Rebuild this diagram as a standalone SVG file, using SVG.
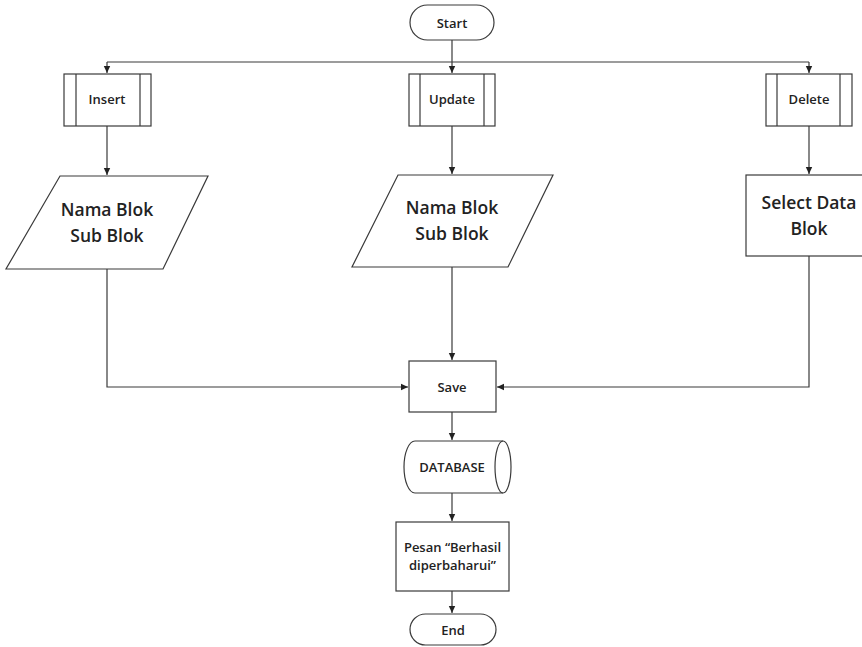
<svg xmlns="http://www.w3.org/2000/svg" width="862" height="647" viewBox="0 0 862 647">
<style>
.s{fill:#fff;stroke:#3a3a3a;stroke-width:1.2}
.l{fill:none;stroke:#3a3a3a;stroke-width:1.2}
.t{font-family:"Open Sans","Liberation Sans",sans-serif;fill:#222;text-anchor:middle;font-size:13px;font-weight:600}
.b{font-family:"Open Sans","Liberation Sans",sans-serif;fill:#222;text-anchor:middle;font-size:17.5px;font-weight:600}
</style>
<defs>
<marker id="a" markerWidth="8" markerHeight="8" refX="7" refY="4" orient="auto" markerUnits="userSpaceOnUse">
<path d="M0,0.8 L7,4 L0,7.2 Z" fill="#222"/>
</marker>
</defs>
<rect width="862" height="647" fill="#fff"/>
<g id="connectors">
<path class="l" d="M452,40 V73" marker-end="url(#a)"/>
<path class="l" d="M107,62 H809"/>
<path class="l" d="M107,62 V73" marker-end="url(#a)"/>
<path class="l" d="M809,62 V73" marker-end="url(#a)"/>
<path class="l" d="M107,126 V175" marker-end="url(#a)"/>
<path class="l" d="M452,126 V174" marker-end="url(#a)"/>
<path class="l" d="M809,126 V174" marker-end="url(#a)"/>
<path class="l" d="M107,269 V387 H408" marker-end="url(#a)"/>
<path class="l" d="M452,267 V360" marker-end="url(#a)"/>
<path class="l" d="M809,256 V387 H497" marker-end="url(#a)"/>
<path class="l" d="M452,412 V440" marker-end="url(#a)"/>
<path class="l" d="M452,493 V521" marker-end="url(#a)"/>
<path class="l" d="M452,591 V613" marker-end="url(#a)"/>
</g>
<g id="start">
<rect class="s" x="410" y="5" width="84" height="35" rx="17.5"/>
<text class="t" x="452" y="27.5">Start</text>
</g>
<g id="insert">
<rect class="s" x="64" y="74" width="87" height="52"/>
<path class="l" d="M76,74 V126 M140,74 V126"/>
<text class="t" x="107" y="104">Insert</text>
</g>
<g id="update">
<rect class="s" x="409" y="74" width="86" height="52"/>
<path class="l" d="M420,74 V126 M484,74 V126"/>
<text class="t" x="452" y="104">Update</text>
</g>
<g id="delete">
<rect class="s" x="766" y="74" width="86" height="52"/>
<path class="l" d="M777,74 V126 M840,74 V126"/>
<text class="t" x="809" y="104">Delete</text>
</g>
<g id="input-insert">
<path class="s" d="M60,176 H208 L163,269 H6 Z"/>
<text class="b" x="107" y="216">Nama Blok</text>
<text class="b" x="107" y="242">Sub Blok</text>
</g>
<g id="input-update">
<path class="s" d="M398,175 H553 L508,267 H352 Z"/>
<text class="b" x="452" y="214">Nama Blok</text>
<text class="b" x="452" y="240">Sub Blok</text>
</g>
<g id="select-data">
<rect class="s" x="746" y="175" width="126" height="81"/>
<text class="b" x="809" y="209">Select Data</text>
<text class="b" x="809" y="235">Blok</text>
</g>
<g id="save">
<rect class="s" x="409" y="361" width="87" height="51"/>
<text class="t" x="452" y="392">Save</text>
</g>
<g id="database">
<path class="s" d="M415,441 H503 A8,26 0 0 1 503,493 H415 A11,26 0 0 1 415,441 Z"/>
<path class="l" d="M503,441 A8,26 0 0 0 503,493"/>
<text class="t" x="452" y="472">DATABASE</text>
</g>
<g id="message">
<rect class="s" x="396" y="522" width="113" height="69"/>
<text class="t" x="452.5" y="552">Pesan “Berhasil</text>
<text class="t" x="452.5" y="570">diperbaharui”</text>
</g>
<g id="end">
<rect class="s" x="410" y="614" width="86" height="31" rx="15.5"/>
<text class="t" x="453" y="634.5">End</text>
</g>
</svg>
